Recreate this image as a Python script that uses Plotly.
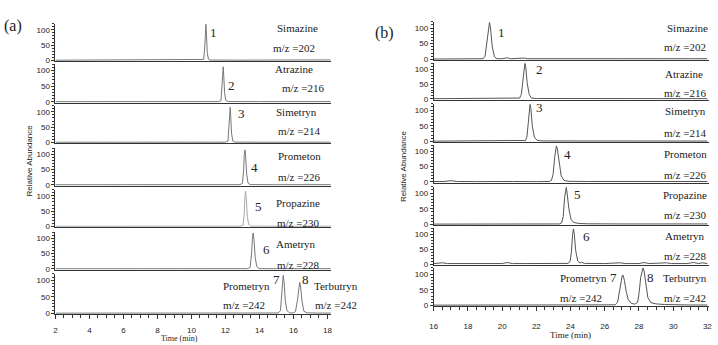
import plotly.graph_objects as go

W, H = 718, 345

# ---------------- data ----------------
compounds = ["Simazine", "Atrazine", "Simetryn", "Prometon", "Propazine", "Ametryn", "Prometryn/Terbutryn"]
mz_labels = ["m/z =202", "m/z =216", "m/z =214", "m/z =226", "m/z =230", "m/z =228", "m/z =242"]
x_ticks_a = [2, 4, 6, 8, 10, 12, 14, 16, 18]
x_ticks_b = [16, 18, 20, 22, 24, 26, 28, 30, 32]
y_ticks = [0, 50, 100]

# Panel (a) chromatograms (time in min, relative abundance)
a1_t = [2.0, 4, 6, 8, 10, 10.6, 10.72, 10.78, 10.82, 10.85, 10.88, 10.93, 11.0, 11.1, 12.5, 13.3, 13.4, 14.5, 16, 18.2]
a1_y = [0.5, 0.8, 0.5, 0.7, 0.6, 0.8, 3, 40, 105, 118, 90, 25, 4, 1, 0.8, 2, 0.8, 1, 1.2, 1.5]
a2_t = [2.0, 6, 10, 11.6, 11.74, 11.8, 11.84, 11.87, 11.9, 11.95, 12.02, 12.15, 14, 18.2]
a2_y = [0.5, 0.6, 0.5, 0.8, 4, 45, 100, 112, 85, 30, 5, 1, 0.6, 0.8]
a3_t = [2.0, 6, 10, 12.0, 12.15, 12.21, 12.25, 12.28, 12.31, 12.36, 12.43, 12.55, 14, 18.2]
a3_y = [0.5, 0.6, 0.5, 0.8, 4, 45, 100, 115, 88, 30, 5, 1, 0.6, 0.8]
a4_t = [2.0, 6, 10, 12.85, 13.0, 13.07, 13.11, 13.15, 13.19, 13.25, 13.33, 13.45, 15, 18.2]
a4_y = [0.5, 0.6, 0.5, 0.8, 5, 45, 100, 115, 92, 35, 6, 1, 0.6, 0.8]
a5_t = [2.0, 6, 10, 12.9, 13.04, 13.11, 13.15, 13.19, 13.23, 13.29, 13.37, 13.5, 15, 18.2]
a5_y = [0.5, 0.6, 0.5, 0.8, 4, 45, 100, 115, 90, 32, 6, 1, 0.6, 0.8]
a6_t = [2.0, 6, 10, 13.3, 13.45, 13.53, 13.59, 13.63, 13.68, 13.75, 13.84, 13.98, 15, 18.2]
a6_y = [0.5, 0.6, 0.5, 0.8, 5, 45, 100, 118, 95, 40, 8, 1, 0.6, 0.8]
a7_t = [2.0, 6, 10, 14, 15.1, 15.24, 15.31, 15.36, 15.4, 15.45, 15.52, 15.62, 15.78, 16.0,
        16.12, 16.24, 16.32, 16.37, 16.43, 16.51, 16.62, 16.8, 17.4, 18.2]
a7_y = [0.5, 0.6, 0.5, 0.6, 1, 8, 55, 100, 115, 95, 40, 8, 1.5, 1,
        5, 40, 80, 94, 80, 35, 6, 1.5, 0.8, 0.8]

# Panel (b) chromatograms
b1_t = [16, 16.5, 17, 17.5, 18, 18.5, 18.9, 19.0, 19.1, 19.2, 19.26, 19.32, 19.42, 19.55, 19.7, 20.0, 20.3,
        20.5, 21.3, 21.5, 23, 25, 27, 29, 30.2, 31, 32]
b1_y = [1, 1.5, 1, 2, 1, 1.5, 2, 10, 50, 105, 118, 100, 40, 8, 2, 2, 5,
        2, 4, 2, 1.5, 2, 2, 2, 3, 2, 2]
b2_t = [16, 18, 20, 20.9, 21.02, 21.12, 21.22, 21.29, 21.33, 21.38, 21.46, 21.58, 21.72, 22.0, 24, 27, 30, 32]
b2_y = [0.8, 0.8, 1, 1, 3, 15, 70, 112, 120, 108, 55, 15, 3, 1.5, 1, 1, 1.2, 1]
b3_t = [16, 18, 20, 21.25, 21.37, 21.45, 21.53, 21.59, 21.63, 21.68, 21.76, 21.88, 22.05, 22.4, 24, 27, 30, 32]
b3_y = [0.8, 0.8, 1, 1, 3, 15, 70, 112, 118, 105, 50, 14, 3, 1.5, 1, 1, 1.2, 1]
b4_t = [16, 16.6, 17.0, 17.4, 18.5, 20.0, 20.3, 20.6, 22, 22.75, 22.88, 22.98, 23.07, 23.13, 23.17, 23.23,
        23.32, 23.45, 23.62, 23.9, 25, 27, 29, 31, 32]
b4_y = [1.5, 1.5, 4, 1.5, 1, 1.5, 3, 1.5, 1, 1.5, 5, 25, 80, 112, 118, 108, 65, 20, 5, 2, 1.5, 1.5, 2, 1.5, 1.5]
b5_t = [16, 18, 20, 22, 23.35, 23.48, 23.57, 23.65, 23.71, 23.75, 23.8, 23.9, 24.03, 24.2, 24.5, 25.0, 27, 29, 31, 32]
b5_y = [1, 1, 1.2, 1, 1.5, 5, 25, 85, 115, 118, 100, 50, 15, 6, 3, 2, 1.5, 1.5, 1.5, 1.5]
b6_t = [16, 16.5, 16.8, 17.2, 17.5, 17.8, 18.5, 19.2, 19.5, 20.0, 20.3, 20.6, 21.5, 23, 23.85, 23.97, 24.05,
        24.12, 24.17, 24.22, 24.3, 24.42, 24.55, 24.65, 24.8, 26.0, 26.9, 27.2, 28.0, 28.3, 28.6, 29.6, 29.9,
        30.8, 31.2, 31.5, 31.7, 32]
b6_y = [1.5, 4, 1.5, 1.5, 4, 1.5, 1.5, 4, 1.5, 1.5, 5, 1.5, 1.5, 1.5, 2, 8, 40,
        100, 118, 100, 45, 10, 3, 6, 2, 1.5, 4, 1.5, 1.5, 5, 1.5, 4, 1.5,
        1.5, 5, 1.5, 4, 1.5]
b7_t = [16, 18, 20, 22, 24, 26, 26.6, 26.75, 26.85, 26.95, 27.02, 27.07, 27.15, 27.25, 27.38, 27.55, 27.75,
        27.92, 28.02, 28.1, 28.18, 28.24, 28.3, 28.4, 28.52, 28.7, 29.0, 29.5, 30, 31, 32]
b7_y = [1, 1, 1.2, 1, 1, 1.5, 2, 10, 40, 80, 95, 97, 80, 45, 18, 7, 4,
        10, 45, 90, 115, 120, 110, 65, 25, 9, 5, 3, 2, 1.5, 1.5]

a_series = [(a1_t, a1_y), (a2_t, a2_y), (a3_t, a3_y), (a4_t, a4_y), (a5_t, a5_y), (a6_t, a6_y), (a7_t, a7_y)]
b_series = [(b1_t, b1_y), (b2_t, b2_y), (b3_t, b3_y), (b4_t, b4_y), (b5_t, b5_y), (b6_t, b6_y), (b7_t, b7_y)]

# ---------------- layout geometry (pixels) ----------------
a_rows = [(24, 62), (65, 104), (107, 145), (150, 188), (192, 230), (235, 273), (277, 318)]
b_rows = [(22, 61), (64, 101), (105, 144), (147, 185), (189, 228), (231, 268), (271, 310)]
a_xpx = (52, 330)
b_xpx = (434, 712)
a_range = [2.0, 18.2]
b_range = [16.0, 32.1]
y_range = [-3, 120]


def px_x(p):
    return p / W


def px_y(p):
    return 1 - p / H


fig = go.Figure()
layout = dict(width=W, height=H, margin=dict(l=0, r=0, t=0, b=0),
              paper_bgcolor="white", plot_bgcolor="white", showlegend=False)

tickfont = dict(family="Liberation Sans, Arial", size=8, color="#222")
axcol = "#333"

idx = 0
for panel, rows, xpx, xr, series, ticks, col, standoff in [
        ("a", a_rows, a_xpx, a_range, a_series, x_ticks_a, "#777", 4),
        ("b", b_rows, b_xpx, b_range, b_series, x_ticks_b, "#555", 8)]:
    for r, ((top, bot), (tt, yy)) in enumerate(zip(rows, series)):
        idx += 1
        xn = "xaxis" if idx == 1 else f"xaxis{idx}"
        yn = "yaxis" if idx == 1 else f"yaxis{idx}"
        xs = "x" if idx == 1 else f"x{idx}"
        ys = "y" if idx == 1 else f"y{idx}"
        last = (r == len(rows) - 1)
        xa = dict(domain=[px_x(xpx[0]), px_x(xpx[1])], range=xr, anchor=ys,
                  showline=True, linecolor=axcol, linewidth=1, showgrid=False, zeroline=False,
                  showticklabels=last, ticks="outside" if last else "",
                  tickvals=ticks, ticklen=4, tickcolor=axcol, tickfont=tickfont)
        if last:
            xa["minor"] = dict(ticks="outside", ticklen=2.5, dtick=0.5, tickcolor=axcol)
            xa["ticklabelstandoff"] = standoff
        ya = dict(domain=[px_y(bot), px_y(top)], range=y_range, anchor=xs,
                  showline=True, linecolor=axcol, linewidth=1, showgrid=False, zeroline=False,
                  ticks="outside", tickvals=y_ticks, ticklen=3, tickcolor=axcol, tickfont=tickfont,
                  minor=dict(ticks="outside", ticklen=2, dtick=10, tickcolor=axcol))
        layout[xn] = xa
        layout[yn] = ya
        lc = "#aaa" if (panel == "a" and r == 4) else col
        fig.add_trace(go.Scatter(x=tt, y=yy, mode="lines", xaxis=xs, yaxis=ys,
                                 line=dict(color=lc, width=1), hoverinfo="skip"))

fig.update_layout(**layout)

serif = "Liberation Serif, Times New Roman"
ann = []


def text(x, y, s, size=11, **kw):
    ann.append(dict(x=px_x(x), y=px_y(y), xref="paper", yref="paper", text=s, showarrow=False,
                    font=dict(family=serif, size=size, color="#222"), xanchor="center", yanchor="middle", **kw))


# panel letters
text(9, 26, "(a)", 16)
text(384, 33, "(b)", 16)

# compound names and m/z labels
a_name_pos = [(296, 28), (293, 70), (295, 113), (298, 158), (297, 205), (295, 247)]
a_mz_pos = [(293, 49), (302, 89), (298, 133), (298, 179), (297, 226), (297, 268)]
b_name_pos = [(690, 28), (687, 75), (688, 112), (688, 156), (688, 197), (688, 239)]
b_mz_pos = [(688, 48), (688, 94), (688, 135), (688, 177), (688, 218), (688, 259)]
for i in range(6):
    text(*a_name_pos[i], compounds[i])
    text(*a_mz_pos[i], mz_labels[i])
    text(*b_name_pos[i], compounds[i])
    text(*b_mz_pos[i], mz_labels[i])
text(245, 289, "Prometryn")
text(242, 309, mz_labels[6])
text(335, 289, "Terbutryn")
text(335, 309, mz_labels[6])
text(585, 281, "Prometryn")
text(583, 301, mz_labels[6])
text(688, 281, "Terbutryn")
text(688, 301, mz_labels[6])

# peak numbers
a_num_pos = [(212, 33), (230, 87), (240, 115), (253, 169), (257, 209), (265, 252), (275, 283), (304, 283)]
b_num_pos = [(502, 33), (541, 70), (541, 109), (569, 156), (579, 197), (588, 239), (615, 281), (653, 281)]
for i in range(8):
    text(*a_num_pos[i], str(i + 1), 13)
    text(*b_num_pos[i], str(i + 1), 13)

# axis titles
sans = "Liberation Sans, Arial"
for x, y in [(19, 162), (403, 168)]:
    ann.append(dict(x=px_x(x), y=px_y(y), xref="paper", yref="paper", text="Relative Abundance",
                    showarrow=False, textangle=-90, font=dict(family=sans, size=8, color="#222")))
text(572, 339, "Time (min)", 9)
text(177, 342, "Time (min)", 8)

fig.update_layout(annotations=ann)
fig.write_html("out.html")
